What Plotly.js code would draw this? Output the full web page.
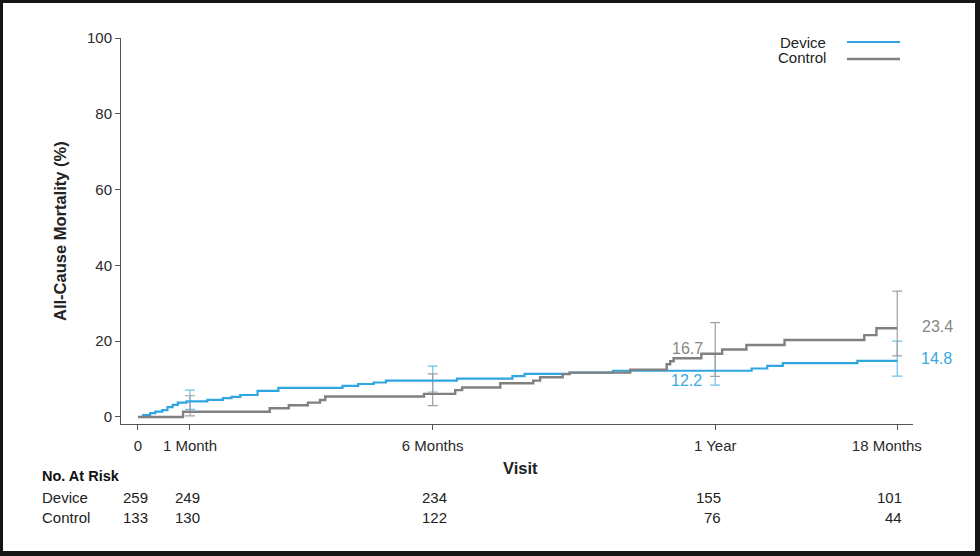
<!DOCTYPE html>
<html>
<head>
<meta charset="utf-8">
<script src="https://cdn.plot.ly/plotly-3.0.1.min.js"></script>
<style>
  html, body { margin: 0; padding: 0; background: #fff; }
  #wrap { position: relative; width: 980px; height: 556px; }
  #chart { width: 980px; height: 556px; }
  #frame { position: absolute; left: 0; top: 0; width: 980px; height: 556px; box-sizing: border-box;
           border-style: solid; border-color: #151515; border-width: 3px 5px 5px 3px; pointer-events: none; }
</style>
</head>
<body>
<div id="wrap"><div id="chart"></div><div id="frame"></div></div>
<script>
// ---- data (time in days on the plotted scale, mortality in %) ----
const tickDays   = [0, 30, 170, 333, 438];
const tickLabels = ['0', '1 Month', '6 Months', '1 Year', '18 Months'];

const deviceT = [0, 3, 7, 10, 14, 17, 20, 23, 28, 40, 49, 54, 59, 69, 81, 118, 127, 136, 143, 184, 216, 223, 249, 274, 354, 363, 372, 415, 438];
const deviceY = [0, 0.5, 1.0, 1.4, 1.8, 2.6, 3.2, 3.8, 4.1, 4.5, 5.0, 5.3, 5.8, 6.9, 7.7, 8.2, 8.7, 9.1, 9.6, 10.1, 10.8, 11.4, 11.7, 12.2, 12.8, 13.5, 14.2, 14.8, 14.8];

const controlT = [0, 26, 76, 87, 98, 105, 108, 165, 183, 187, 209, 228, 232, 245, 249, 284, 305, 307, 309, 325, 337, 351, 373, 419, 426, 438];
const controlY = [0, 1.4, 2.3, 3.1, 3.8, 4.5, 5.4, 6.1, 7.1, 7.8, 8.9, 9.6, 10.5, 11.3, 11.7, 12.5, 13.9, 14.7, 15.5, 16.7, 17.8, 19.0, 20.3, 21.6, 23.4, 23.4];

const ciT = [30, 170, 333, 438];
const deviceAt     = [4.1, 9.6, 12.2, 14.8];
const deviceCiLow  = [2.0, 6.6, 8.4, 10.8];
const deviceCiHigh = [7.1, 13.4, 16.5, 20.0];
const controlAt     = [1.4, 6.1, 16.7, 23.4];
const controlCiLow  = [0.3, 3.0, 10.7, 16.1];
const controlCiHigh = [5.6, 11.4, 24.9, 33.2];

const labelDevice = [12.2, 14.8];
const labelControl = [16.7, 23.4];

const riskDevice  = [259, 249, 234, 155, 101];
const riskControl = [133, 130, 122, 76, 44];

// ---- styles ----
const BLUE = '#2fa6df';
const GRAY = '#808080';
const FONT = 'Liberation Sans, Arial, Helvetica, sans-serif';
const NB = '\u00a0';

const traces = [
  { x: ciT, y: deviceAt, type: 'scatter', mode: 'markers', marker: {size: 1, opacity: 0}, hoverinfo: 'skip',
    error_y: { type: 'data', symmetric: false,
      array: deviceCiHigh.map((v, i) => v - deviceAt[i]),
      arrayminus: deviceAt.map((v, i) => v - deviceCiLow[i]),
      color: '#6fc0ea', thickness: 1.2, width: 5 } },
  { x: ciT, y: controlAt, type: 'scatter', mode: 'markers', marker: {size: 1, opacity: 0}, hoverinfo: 'skip',
    error_y: { type: 'data', symmetric: false,
      array: controlCiHigh.map((v, i) => v - controlAt[i]),
      arrayminus: controlAt.map((v, i) => v - controlCiLow[i]),
      color: '#a0a0a0', thickness: 1.2, width: 5 } },
  { x: deviceT, y: deviceY, name: 'Device', type: 'scatter', mode: 'lines',
    line: { shape: 'hv', color: BLUE, width: 2.2 } },
  { x: controlT, y: controlY, name: 'Control', type: 'scatter', mode: 'lines',
    line: { shape: 'hv', color: GRAY, width: 2.4 } }
];

const ann = [];
// y-axis title
ann.push({ xref: 'paper', yref: 'paper', x: 0, y: 0.5, xshift: -61, xanchor: 'center', yanchor: 'middle',
  textangle: -90, showarrow: false, text: '<b>All-Cause Mortality (%)</b>', font: {family: FONT, size: 16.5, color: '#222'} });
// x-axis title
ann.push({ xref: 'paper', yref: 'paper', x: 0.5, y: 0, yshift: -44, xshift: 3, xanchor: 'center', yanchor: 'middle',
  showarrow: false, text: '<b>Visit</b>', font: {family: FONT, size: 16.5, color: '#222'} });
// legend text
ann.push({ xref: 'paper', yref: 'paper', x: (828 - 121) / 792, y: (424 - 42) / 386, xanchor: 'right', yanchor: 'middle',
  showarrow: false, text: 'Device', font: {family: FONT, size: 15, color: '#222'} });
ann.push({ xref: 'paper', yref: 'paper', x: (828 - 121) / 792, y: (424 - 58) / 386, xanchor: 'right', yanchor: 'middle',
  showarrow: false, text: 'Control', font: {family: FONT, size: 15, color: '#222'} });
// value labels
ann.push({ x: tickDays[3], y: labelControl[0], xanchor: 'right', yanchor: 'middle', xshift: -10, yshift: 5,
  showarrow: false, text: labelControl[0].toFixed(1), font: {family: FONT, size: 16, color: '#888'} });
ann.push({ x: tickDays[3], y: labelDevice[0], xanchor: 'right', yanchor: 'middle', xshift: -11, yshift: -10,
  showarrow: false, text: labelDevice[0].toFixed(1), font: {family: FONT, size: 16, color: '#39a9e1'} });
ann.push({ x: tickDays[4], y: labelControl[1], xanchor: 'left', yanchor: 'middle', xshift: 23, yshift: 2,
  showarrow: false, text: labelControl[1].toFixed(1), font: {family: FONT, size: 16, color: '#888'} });
ann.push({ x: tickDays[4], y: labelDevice[1], xanchor: 'left', yanchor: 'middle', xshift: 22, yshift: 2,
  showarrow: false, text: labelDevice[1].toFixed(1), font: {family: FONT, size: 16, color: '#39a9e1'} });
// at-risk table
const leftX = (40 - 121) / 792;
ann.push({ xref: 'paper', yref: 'paper', x: leftX, y: 0, yshift: -52, xanchor: 'left', yanchor: 'middle',
  showarrow: false, text: '<b>No. At Risk</b>', font: {family: FONT, size: 14.5, color: '#111'} });
ann.push({ xref: 'paper', yref: 'paper', x: leftX, y: 0, yshift: -73, xanchor: 'left', yanchor: 'middle',
  showarrow: false, text: 'Device', font: {family: FONT, size: 15, color: '#222'} });
ann.push({ xref: 'paper', yref: 'paper', x: leftX, y: 0, yshift: -93, xanchor: 'left', yanchor: 'middle',
  showarrow: false, text: 'Control', font: {family: FONT, size: 15, color: '#222'} });
const colShift = [12, 12, 16, 8, 7];
tickDays.forEach((t, i) => {
  ann.push({ xref: 'x', yref: 'paper', x: t, y: 0, yshift: -73, xshift: colShift[i], xanchor: 'right', yanchor: 'middle',
    showarrow: false, text: String(riskDevice[i]), font: {family: FONT, size: 15, color: '#222'} });
  ann.push({ xref: 'x', yref: 'paper', x: t, y: 0, yshift: -93, xshift: colShift[i], xanchor: 'right', yanchor: 'middle',
    showarrow: false, text: String(riskControl[i]), font: {family: FONT, size: 15, color: '#222'} });
});

const shapes = [
  { type: 'line', xref: 'paper', yref: 'paper', x0: (847 - 121) / 792, x1: (900 - 121) / 792,
    y0: (424 - 42) / 386, y1: (424 - 42) / 386, line: {color: BLUE, width: 2.2} },
  { type: 'line', xref: 'paper', yref: 'paper', x0: (847 - 121) / 792, x1: (900 - 121) / 792,
    y0: (424 - 59) / 386, y1: (424 - 59) / 386, line: {color: GRAY, width: 2.4} }
];

// last tick label sits slightly left of its tick in the reference
const tickText = tickLabels.map((s, i) => i === tickLabels.length - 1 ? s + NB.repeat(5) : s);

const layout = {
  width: 980, height: 556,
  margin: {l: 121, r: 67, t: 38, b: 132, pad: 0},
  paper_bgcolor: '#fff', plot_bgcolor: '#fff',
  showlegend: false,
  font: {family: FONT, color: '#222'},
  xaxis: {
    range: [-9.8, 447.1], tickmode: 'array', tickvals: tickDays, ticktext: tickText,
    ticks: 'outside', ticklen: 5, tickwidth: 1, tickcolor: '#555',
    showline: true, linecolor: '#555', linewidth: 1, showgrid: false, zeroline: false,
    tickfont: {family: FONT, size: 15, color: '#2a2a2a'}, ticklabelstandoff: 3
  },
  yaxis: {
    range: [-1.85, 100], tickmode: 'array', tickvals: [0, 20, 40, 60, 80, 100],
    ticks: 'outside', ticklen: 5, tickwidth: 1, tickcolor: '#555',
    showline: true, linecolor: '#555', linewidth: 1, showgrid: false, zeroline: false,
    tickfont: {family: FONT, size: 15, color: '#2a2a2a'}
  },
  annotations: ann,
  shapes: shapes
};

Plotly.newPlot('chart', traces, layout, {displayModeBar: false, staticPlot: true});
</script>
</body>
</html>
